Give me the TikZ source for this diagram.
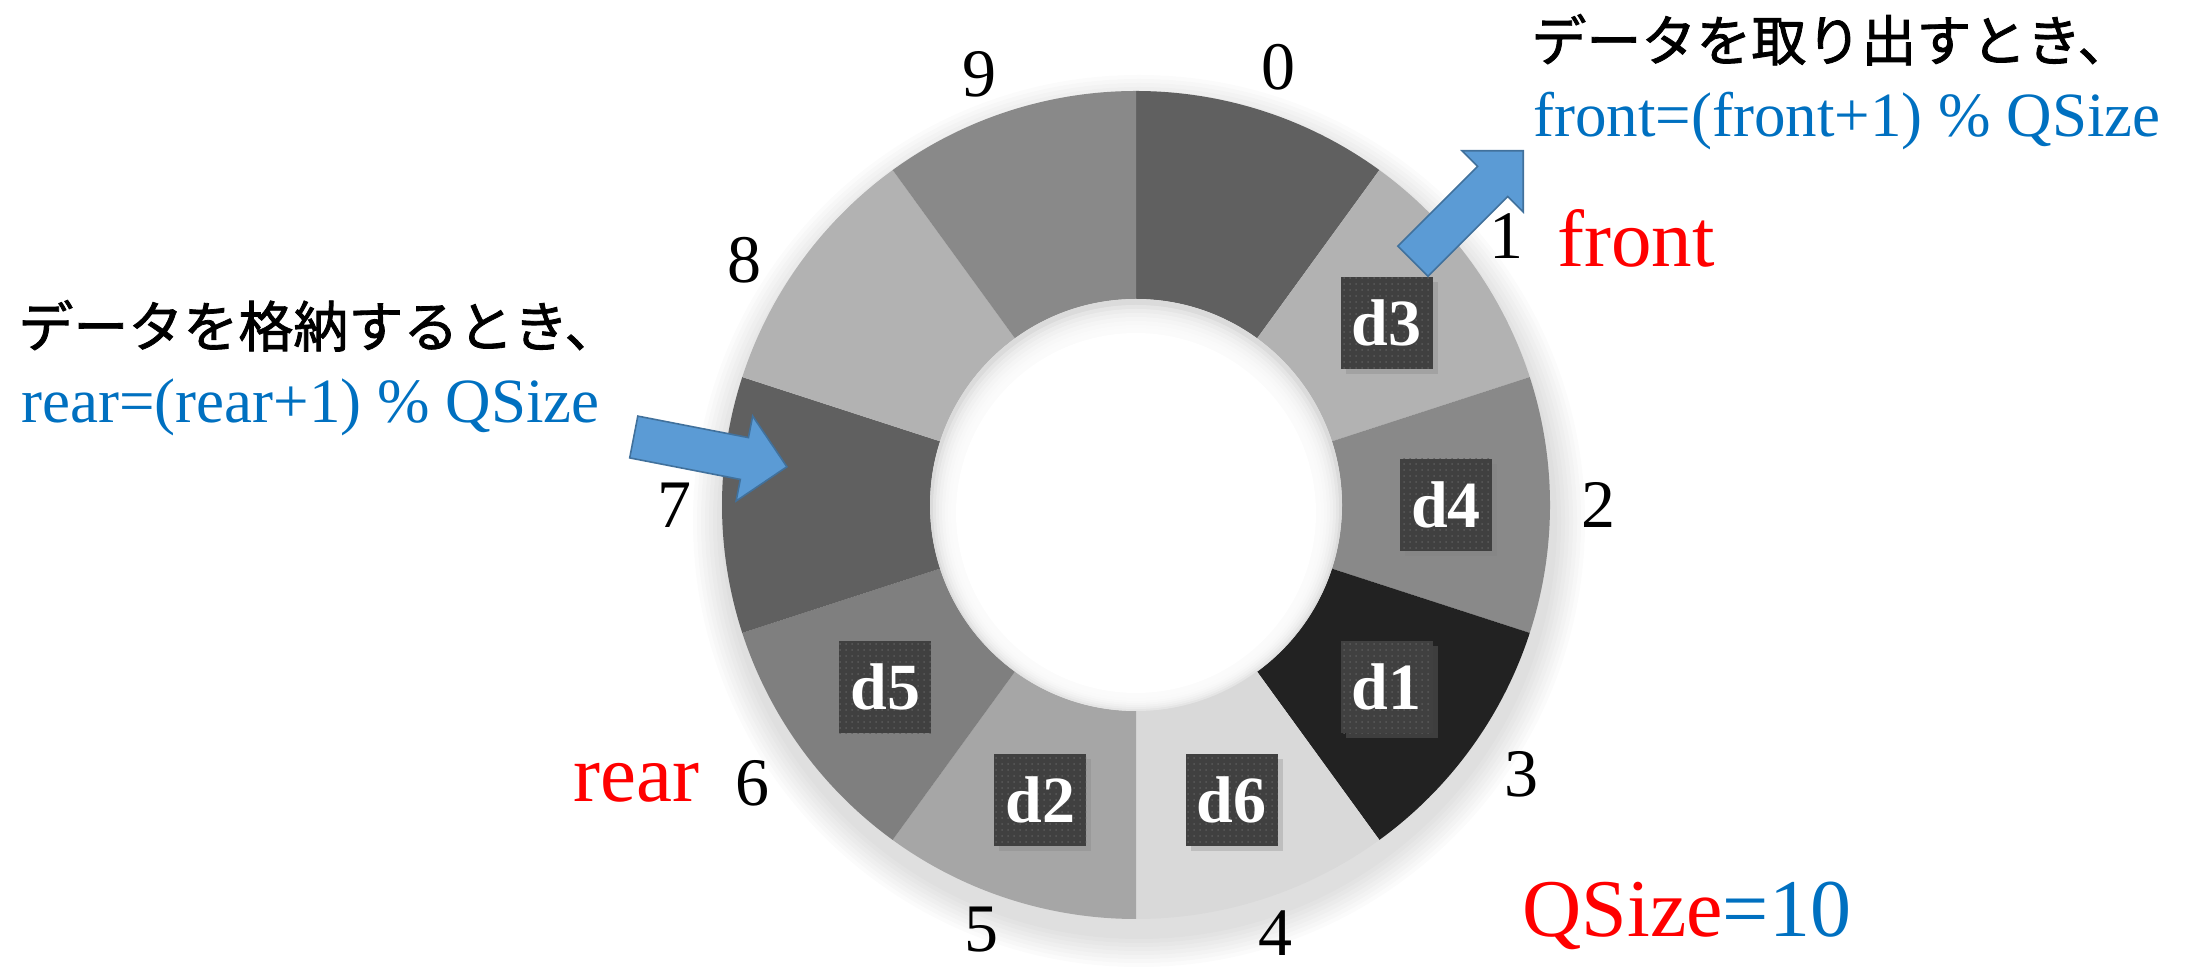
\documentclass[tikz,border=0pt]{standalone}
\usepackage{fontspec}
\setmainfont{Liberation Serif}
\newfontfamily\jpfont[FakeBold=1.5]{Noto Sans CJK JP}
\usetikzlibrary{shapes,arrows,positioning,calc,patterns,shadows}

\definecolor{slotZero}{HTML}{606060}
\definecolor{slotOne}{HTML}{B2B2B2}
\definecolor{slotTwo}{HTML}{898989}
\definecolor{slotThree}{HTML}{222222}
\definecolor{slotFour}{HTML}{D9D9D9}
\definecolor{slotFive}{HTML}{A6A6A6}
\definecolor{slotSix}{HTML}{7F7F7F}
\definecolor{slotSeven}{HTML}{606060}
\definecolor{slotEight}{HTML}{B2B2B2}
\definecolor{slotNine}{HTML}{898989}
\definecolor{boxGray}{HTML}{404040}
\definecolor{dotGray}{HTML}{5A5A5A}
\definecolor{arrowBlue}{HTML}{5B9BD5}
\definecolor{arrowEdge}{HTML}{41719C}
\definecolor{formulaBlue}{HTML}{0070C0}

\begin{document}
\begin{tikzpicture}[x=0.5pt,y=0.5pt,every node/.style={inner sep=0pt},
    indexLabel/.style={font=\fontsize{34}{34}\selectfont},
    dataBox/.style={fill=boxGray,text=white,minimum size=46pt,font=\bfseries\fontsize{33}{33}\selectfont,
        drop shadow={shadow xshift=2.5pt,shadow yshift=-2.5pt,opacity=0.3},
        postaction={pattern=dots,pattern color=dotGray}},
    jpText/.style={font=\jpfont\fontsize{27.5}{27.5}\selectfont,anchor=base west},
    formulaText/.style={text=formulaBlue,font=\fontsize{31.5}{31.5}\selectfont,anchor=base west},
    pointerText/.style={text=red,font=\fontsize{40.5}{40.5}\selectfont,anchor=base west},
    blockArrow/.style={single arrow,draw=arrowEdge,fill=arrowBlue,line width=0.8pt,inner xsep=0pt,inner ysep=10.25pt,
        minimum height=78pt,minimum width=42.5pt,single arrow head extend=11pt,anchor=tip}]
    \useasboundingbox (0,0) rectangle (2193,968);
    \coordinate (centerNode) at (1136,463);

    % soft shadow round the ring
    \begin{scope}[shift={(1139,447)}]
    \fill[black,opacity=0.016] (0,0) circle (418);
    \fill[black,opacity=0.016] (0,0) circle (422);
    \fill[black,opacity=0.016] (0,0) circle (426);
    \fill[black,opacity=0.016] (0,0) circle (430);
    \fill[black,opacity=0.016] (0,0) circle (434);
    \fill[black,opacity=0.016] (0,0) circle (438);
    \fill[black,opacity=0.016] (0,0) circle (442);
    \fill[black,opacity=0.016] (0,0) circle (446);
    \end{scope}

    \begin{scope}[shift={(centerNode)}]
    \fill[slotZero] (90:414) arc[start angle=90,end angle=54,radius=414] -- (54:206) arc[start angle=54,end angle=90,radius=206] -- cycle;
    \fill[slotOne] (54:414) arc[start angle=54,end angle=18,radius=414] -- (18:206) arc[start angle=18,end angle=54,radius=206] -- cycle;
    \fill[slotTwo] (18:414) arc[start angle=18,end angle=-18,radius=414] -- (-18:206) arc[start angle=-18,end angle=18,radius=206] -- cycle;
    \fill[slotThree] (-18:414) arc[start angle=-18,end angle=-54,radius=414] -- (-54:206) arc[start angle=-54,end angle=-18,radius=206] -- cycle;
    \fill[slotFour] (-54:414) arc[start angle=-54,end angle=-90,radius=414] -- (-90:206) arc[start angle=-90,end angle=-54,radius=206] -- cycle;
    \fill[slotFive] (-90:414) arc[start angle=-90,end angle=-126,radius=414] -- (-126:206) arc[start angle=-126,end angle=-90,radius=206] -- cycle;
    \fill[slotSix] (-126:414) arc[start angle=-126,end angle=-162,radius=414] -- (-162:206) arc[start angle=-162,end angle=-126,radius=206] -- cycle;
    \fill[slotSeven] (-162:414) arc[start angle=-162,end angle=-198,radius=414] -- (-198:206) arc[start angle=-198,end angle=-162,radius=206] -- cycle;
    \fill[slotEight] (162:414) arc[start angle=162,end angle=126,radius=414] -- (126:206) arc[start angle=126,end angle=162,radius=206] -- cycle;
    \fill[slotNine] (126:414) arc[start angle=126,end angle=90,radius=414] -- (90:206) arc[start angle=90,end angle=126,radius=206] -- cycle;

    % hole with its inner shadow
    \fill[black!14] (0,0) circle (206);
    \fill[white,opacity=0.3] (0,-3) circle (203);
    \fill[white,opacity=0.3] (0,-4) circle (200);
    \fill[white,opacity=0.3] (0,-5) circle (197);
    \fill[white,opacity=0.3] (0,-6) circle (194);
    \fill[white,opacity=0.3] (0,-7) circle (191);
    \fill[white,opacity=0.3] (0,-8) circle (188);
    \fill[white,opacity=0.3] (0,-8) circle (185);
    \fill[white] (0,-8) circle (180);

    \node[indexLabel] (slot0Label) at (72:460) {0};
    \node[indexLabel] (slot1Label) at (36:458) {1};
    \node[indexLabel] (slot2Label) at (0:462) {2};
    \node[indexLabel] (slot3Label) at (-35:470) {3};
    \node[indexLabel] (slot4Label) at (-72:450) {4};
    \node[indexLabel] (slot5Label) at (-110:452) {5};
    \node[indexLabel] (slot6Label) at (-144:474) {6};
    \node[indexLabel] (slot7Label) at (180:462) {7};
    \node[indexLabel] (slot8Label) at (148:462) {8};
    \node[indexLabel] (slot9Label) at (110:458) {9};

    \node[dataBox] (d3Node) at (36:310) {d3};
    \node[dataBox] (d4Node) at (0:310) {d4};
    \node[dataBox] (d1Node) at (-36:310) {d1};
    \node[dataBox] (d6Node) at (-72:310) {d6};
    \node[dataBox] (d2Node) at (-108:310) {d2};
    \node[dataBox] (d5Node) at (-144:310) {d5};
    \end{scope}

    \node[jpText] (takeOutNode) at (1531,907) {データを取り出すとき、};
    \node[formulaText] (frontFormulaNode) at (1533,831) {front=(front+1) \% QSize};
    \node[pointerText] (frontNode) at (1557,701) {front};

    \node[jpText] (storeNode) at (18,621) {データを格納するとき、};
    \node[formulaText] (rearFormulaNode) at (21,545) {rear=(rear+1) \% QSize};
    \node[pointerText] (rearNode) at (573,166) {rear};

    \node[anchor=base west,font=\fontsize{41}{41}\selectfont] (qSizeNode) at (1522,31) {\textcolor{red}{QSize}\textcolor{formulaBlue}{=10}};

    \node[blockArrow,rotate=45] (takeOutArrow) at (1524,818) {};
    \node[blockArrow,rotate=-11] (storeArrow) at (788,501) {};
\end{tikzpicture}
\end{document}
